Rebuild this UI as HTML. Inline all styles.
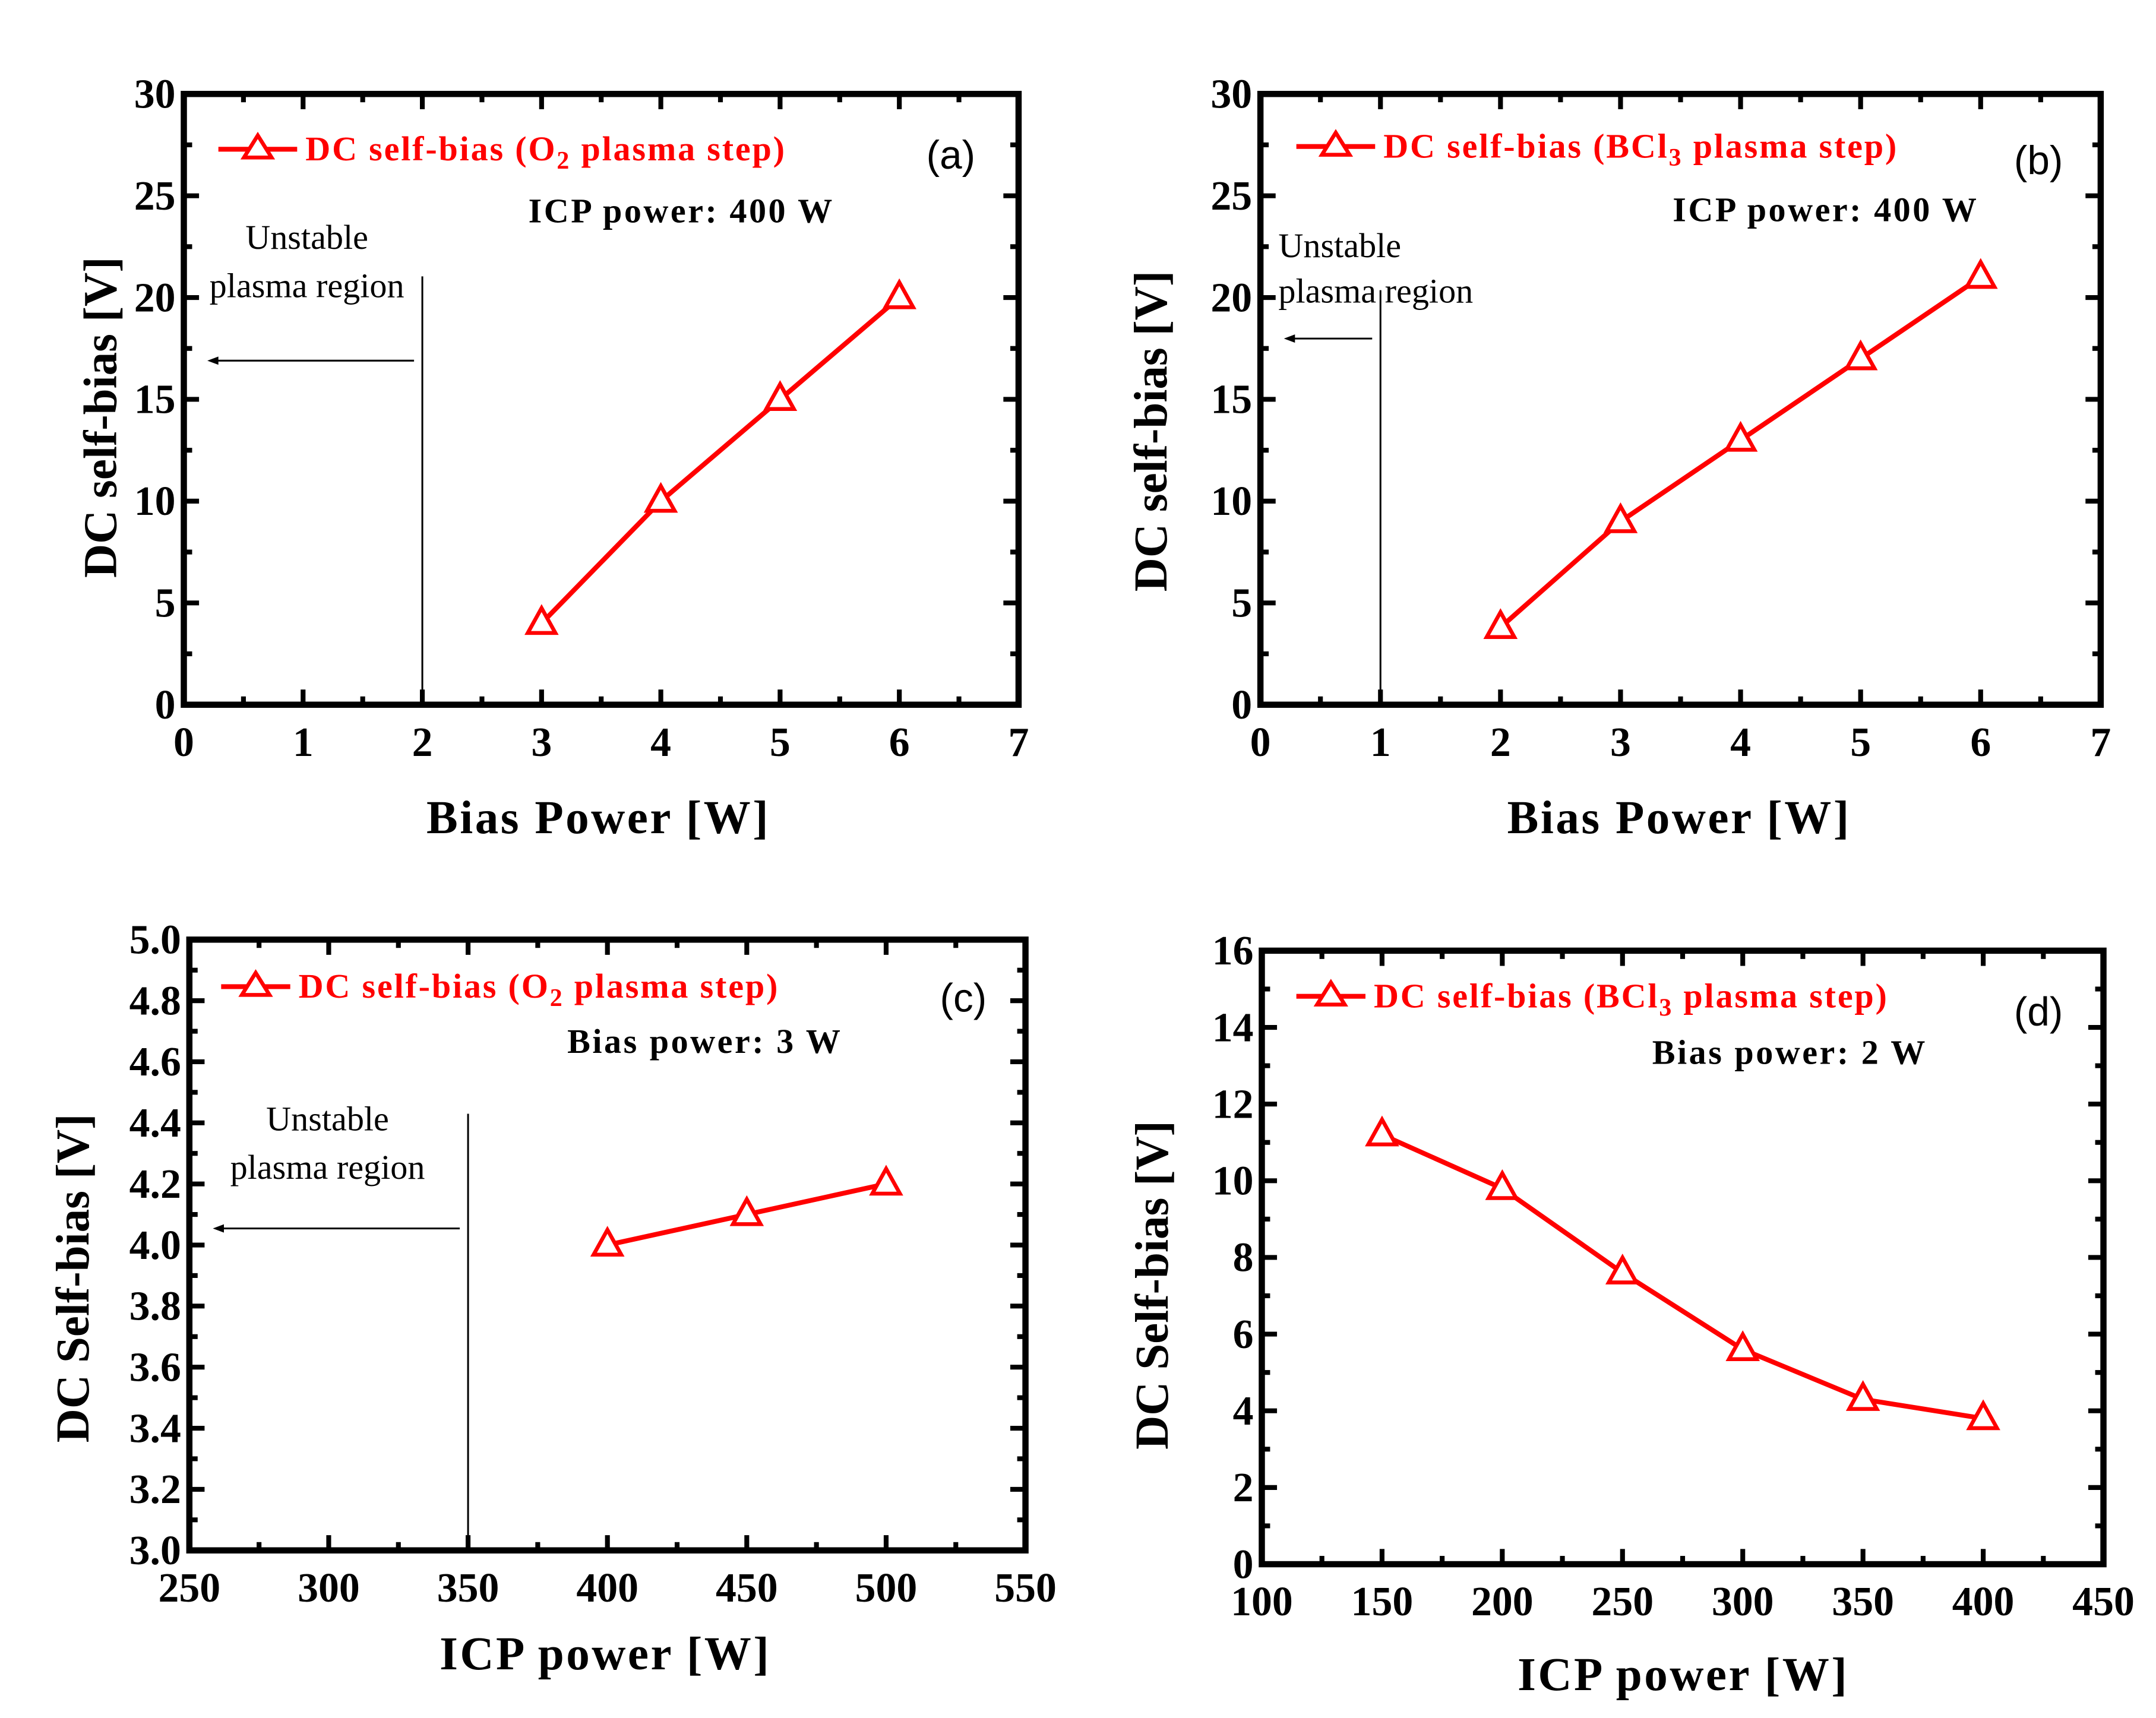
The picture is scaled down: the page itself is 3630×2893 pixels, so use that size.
<!DOCTYPE html>
<html><head><meta charset="utf-8"><style>
html,body{margin:0;padding:0;background:#fff;}
svg{display:block;}
text{font-family:"Liberation Serif",serif;}
</style></head><body>
<svg id="fig" xmlns="http://www.w3.org/2000/svg" width="3630" height="2893" viewBox="0 0 1560 1243.3"></svg>
<script>
const NS="http://www.w3.org/2000/svg";
const svg=document.getElementById('fig');
// Panel data
const aX=[3,4,5,6];
const aY=[4,10,15,20];
const bX=[2,3,4,5,6];
const bY=[3.8,9,13,17,21];
const cX=[400,450,500];
const cY=[4.0,4.1,4.2];
const dX=[150,200,250,300,350,400];
const dY=[11.2,9.8,7.6,5.6,4.3,3.8];
const aXTicks=[0,1,2,3,4,5,6,7];
const aYTicks=[0,5,10,15,20,25,30];
const cXTicks=[250,300,350,400,450,500,550];
const cYTicks=[3.0,3.2,3.4,3.6,3.8,4.0,4.2,4.4,4.6,4.8,5.0];
const dXTicks=[100,150,200,250,300,350,400,450];
const dYTicks=[0,2,4,6,8,10,12,14,16];

function el(tag,attrs,parent){const e=document.createElementNS(NS,tag);for(const k in attrs)e.setAttribute(k,attrs[k]);(parent||svg).appendChild(e);return e;}

function panel(p){
  const g=el('g',{});
  
  
  const sx=v=>p.x0+(v-p.xmin)/(p.xmax-p.xmin)*(p.x1-p.x0);
  const sy=v=>p.y1-(v-p.ymin)/(p.ymax-p.ymin)*(p.y1-p.y0);
  const xt=p.xt, yt=p.yt;
  const xs=xt[1]-xt[0], ys=yt[1]-yt[0];
  for(let i=0;i<xt.length;i++){
    const v=xt[i];const X=sx(v);
    el('line',{x1:X,x2:X,y1:p.y1,y2:p.y1-11,stroke:'#000','stroke-width':3.5},g);
    el('line',{x1:X,x2:X,y1:p.y0,y2:p.y0+11,stroke:'#000','stroke-width':3.5},g);
    if(i<xt.length-1){const m=sx(v+xs/2);
      el('line',{x1:m,x2:m,y1:p.y1,y2:p.y1-6,stroke:'#000','stroke-width':3.5},g);
      el('line',{x1:m,x2:m,y1:p.y0,y2:p.y0+6,stroke:'#000','stroke-width':3.5},g);}
    const t=el('text',{x:X,y:p.y1+37,'text-anchor':'middle','font-size':30,'font-weight':'bold'},g);
    
    
    t.textContent=p.xdec?v.toFixed(p.xdec):String(v);
  }
  for(let i=0;i<yt.length;i++){
    const v=yt[i];const Y=sy(v);
    el('line',{x1:p.x0,x2:p.x0+11,y1:Y,y2:Y,stroke:'#000','stroke-width':3.5},g);
    el('line',{x1:p.x1,x2:p.x1-11,y1:Y,y2:Y,stroke:'#000','stroke-width':3.5},g);
    if(i<yt.length-1){const m=sy(v+ys/2);
      el('line',{x1:p.x0,x2:p.x0+6,y1:m,y2:m,stroke:'#000','stroke-width':3.5},g);
      el('line',{x1:p.x1,x2:p.x1-6,y1:m,y2:m,stroke:'#000','stroke-width':3.5},g);}
    const t=el('text',{x:p.x0-6,y:Y+10,'text-anchor':'end','font-size':30,'font-weight':'bold'},g);
    
    
    t.textContent=p.ydec?v.toFixed(p.ydec):String(v);
  }
  const fr=el('rect',{x:p.x0,y:p.y0,width:p.x1-p.x0,height:p.y1-p.y0,fill:'none',stroke:'#000','stroke-width':4.5},g);
  
  
  if(p.vx!==undefined){
    const X=sx(p.vx);
    const vl=el('line',{x1:X,x2:X,y1:p.vTop,y2:p.y1,stroke:'#000','stroke-width':1.3},g);
    
    
    const ar=el('line',{x1:X-6,x2:p.x0+22,y1:p.arY,y2:p.arY,stroke:'#000','stroke-width':1.3},g);
    
    
    el('polygon',{points:`${p.x0+17},${p.arY} ${p.x0+25},${p.arY-3} ${p.x0+25},${p.arY+3}`,fill:'#000'},g);
    const t1=el('text',{x:p.ux,y:p.uy1,'text-anchor':p.ua,'font-size':25},g);
    
    
    t1.textContent='Unstable';
    const t2=el('text',{x:p.ux2,y:p.uy2,'text-anchor':p.ua,'font-size':25},g);
    
    
    t2.textContent='plasma region';
  }
  const pts=p.X.map((v,i)=>sx(v)+','+sy(p.Y[i])).join(' ');
  const pl=el('polyline',{points:pts,fill:'none',stroke:'#f00','stroke-width':3.5},g);
  
  
  p.X.forEach((v,i)=>{
    const X=sx(v),Y=sy(p.Y[i]);
    const m=el('polygon',{points:`${X},${Y-11} ${X+10},${Y+7} ${X-10},${Y+7}`,fill:'#fff',stroke:'#f00','stroke-width':2.8},g);
    
    
  });
  const lg=el('g',{},g);
  
  
  el('line',{x1:p.lx,x2:p.lx+p.lw,y1:p.ly,y2:p.ly,stroke:'#f00','stroke-width':3.5},lg);
  const cx=p.lx+p.lw/2;
  el('polygon',{points:`${cx},${p.ly-10} ${cx+10},${p.ly+6} ${cx-10},${p.ly+6}`,fill:'#fff',stroke:'#f00','stroke-width':2.8},lg);
  const lt=el('text',{x:p.lx+p.lw+6,y:p.ly+8,'font-size':25,'font-weight':'bold',fill:'#f00','letter-spacing':1.2},lg);
  lt.innerHTML=p.leg;
  const pl2=el('text',{x:p.px,y:p.py,'text-anchor':'middle','font-size':29,style:'font-family:"Liberation Sans",sans-serif'},g);
  
  
  pl2.textContent='('+p.id+')';
  const nt=el('text',{x:p.nx,y:p.ny,'text-anchor':'middle','font-size':25,'font-weight':'bold','letter-spacing':1.5},g);
  
  
  nt.textContent=p.note;
  const xtit=el('text',{x:p.xtx,y:p.xty,'text-anchor':'middle','font-size':34,'font-weight':'bold','letter-spacing':1.5},g);
  
  
  xtit.textContent=p.xtitle;
  const ytit=el('text',{x:0,y:0,'text-anchor':'middle','font-size':34,'font-weight':'bold',transform:`translate(${p.ytx},${p.yty}) rotate(-90)`},g);
  
  
  ytit.textContent=p.ytitle;
}
const O2='DC self-bias (O<tspan font-size="18" dy="6">2</tspan><tspan dy="-6"> plasma step)</tspan>';
const BCL='DC self-bias (BCl<tspan font-size="18" dy="6">3</tspan><tspan dy="-6"> plasma step)</tspan>';
panel({id:'a',x0:133,x1:737,y0:68,y1:510,xmin:0,xmax:7,ymin:0,ymax:30,xt:aXTicks,yt:aYTicks,X:aX,Y:aY,
  vx:2,vTop:200,arY:261,ux:222,ux2:222,uy1:180,uy2:215,ua:'middle',
  lx:158,lw:57,ly:108,leg:O2,px:688,py:122,nx:493,ny:161,note:'ICP power: 400 W',
  xtx:433,xty:603,xtitle:'Bias Power [W]',ytx:84,yty:302,ytitle:'DC self-bias [V]'});
panel({id:'b',x0:912,x1:1520,y0:68,y1:510,xmin:0,xmax:7,ymin:0,ymax:30,xt:aXTicks,yt:aYTicks,X:bX,Y:bY,
  vx:1,vTop:210,arY:245,ux:925,ux2:925,uy1:186,uy2:219,ua:'start',
  lx:938,lw:57,ly:106,leg:BCL,px:1475,py:126,nx:1321,ny:160,note:'ICP power: 400 W',
  xtx:1215,xty:603,xtitle:'Bias Power [W]',ytx:844,yty:312,ytitle:'DC self-bias [V]'});
panel({id:'c',x0:137,x1:742,y0:680,y1:1122,xmin:250,xmax:550,ymin:3.0,ymax:5.0,xt:cXTicks,yt:cYTicks,ydec:1,X:cX,Y:cY,
  vx:350,vTop:806,arY:889,ux:237,ux2:237,uy1:818,uy2:853,ua:'middle',
  lx:160,lw:50,ly:714,leg:O2,px:697,py:732,nx:510,ny:762,note:'Bias power: 3 W',
  xtx:438,xty:1208,xtitle:'ICP power [W]',ytx:64,yty:925,ytitle:'DC Self-bias [V]'});
panel({id:'d',x0:913,x1:1522,y0:688,y1:1132,xmin:100,xmax:450,ymin:0,ymax:16,xt:dXTicks,yt:dYTicks,X:dX,Y:dY,
  lx:938,lw:50,ly:721,leg:BCL,px:1475,py:742,nx:1295,ny:770,note:'Bias power: 2 W',
  xtx:1218,xty:1223,xtitle:'ICP power [W]',ytx:845,yty:930,ytitle:'DC Self-bias [V]'});
</script>
</body></html>
